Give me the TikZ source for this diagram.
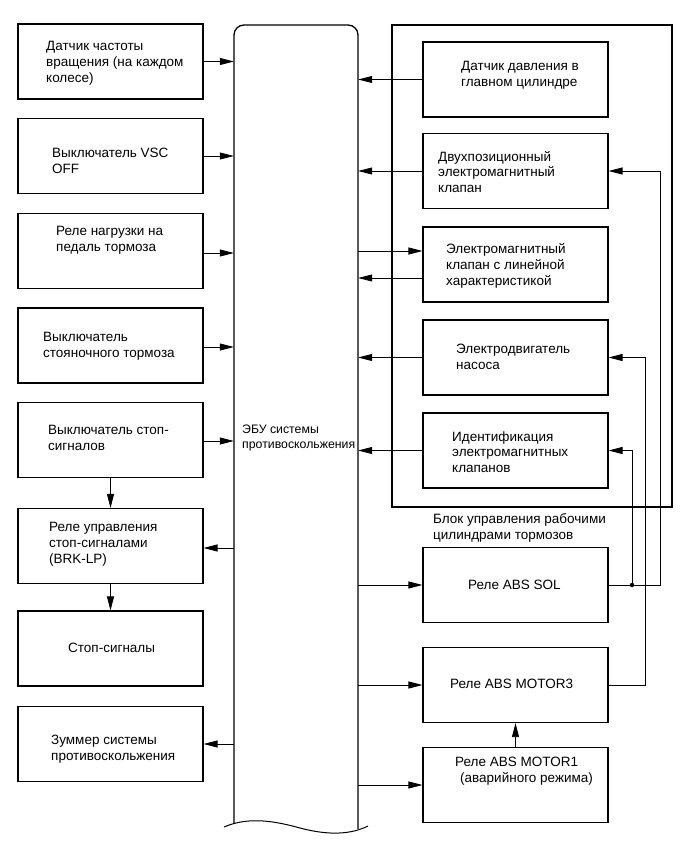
\documentclass[tikz,border=0pt]{standalone}
\usepackage{fontspec}
\setmainfont{Liberation Sans}
\usetikzlibrary{arrows.meta}
\begin{document}
\begin{tikzpicture}[x=1pt,y=-1pt,
  box/.style={draw,line width=1.1pt,minimum width=185pt,minimum height=75pt,inner sep=0pt},
  lbl/.style={anchor=west,align=left,inner sep=0pt,font=\fontsize{13.5}{15.8}\selectfont},
  arr/.style={line width=0.8pt,-{Triangle[length=14pt,width=7pt]}},
  wire/.style={line width=0.8pt}]
\useasboundingbox (0,0) rectangle (690,856);
% ECU
\node[minimum width=124pt,minimum height=801pt,inner sep=0pt] (ecu) at (296,425.5) {};
\draw[line width=1.3pt,rounded corners=10pt] (234,823) -- (234,25) -- (358,25) -- (358,829);
\draw[line width=1pt] (224,827) .. controls (245,818) and (268,819) .. (300,828) .. controls (330,836) and (352,834) .. (368,826);
\node[lbl,font=\fontsize{12.3}{15.5}\selectfont] (ecut) at (242,438) {ЭБУ системы\\противоскольжения};
% left boxes
\node[box] (L1) at (110.5,61.5) {};
\node[box] (L2) at (110.5,156) {};
\node[box] (L3) at (110.5,251) {};
\node[box] (L4) at (110.5,345.5) {};
\node[box] (L5) at (110.5,440) {};
\node[box] (L6) at (110.5,546) {};
\node[box] (L7) at (110.5,648.5) {};
\node[box] (L8) at (110.5,744) {};
\node[lbl] (t1) at (46,63) {Датчик частоты\\вращения (на каждом\\колесе)};
\node[lbl] (t2) at (52,161) {Выключатель VSC\\OFF};
\node[lbl] (t3) at (56,240) {Реле нагрузки на\\педаль тормоза};
\node[lbl] (t4) at (43,346) {Выключатель\\стояночного тормоза};
\node[lbl] (t5) at (48,438) {Выключатель стоп-\\сигналов};
\node[lbl] (t6) at (49,544) {Реле управления\\стоп-сигналами\\(BRK-LP)};
\node[lbl] (t7) at (68,648) {Стоп-сигналы};
\node[lbl] (t8) at (51,749) {Зуммер системы\\противоскольжения};
\draw[arr] (L1.east) -- (L1.east -| ecu.west);
\draw[arr] (L2.east) -- (L2.east -| ecu.west);
\draw[arr] ([yshift=-2pt]L3.east) -- ([yshift=-2pt]L3.east -| ecu.west);
\draw[arr] ([yshift=-1.5pt]L4.east) -- ([yshift=-1.5pt]L4.east -| ecu.west);
\draw[arr] ([yshift=-1pt]L5.east) -- ([yshift=-1pt]L5.east -| ecu.west);
\draw[arr] ([yshift=-2pt]L6.east -| ecu.west) -- ([yshift=-2pt]L6.east);
\draw[arr] (L8.east -| ecu.west) -- (L8.east);
\draw[arr] (L5.south) -- (L6.north);
\draw[arr] (L6.south) -- (L7.north);
% frame
\node[draw,line width=1.1pt,minimum width=280pt,minimum height=482pt,inner sep=0pt] (frame) at (532,266) {};
\node[lbl] (ft) at (433,528) {Блок управления рабочими\\цилиндрами тормозов};
% right boxes
\node[box] (R1) at (515.5,79.5) {};
\node[box] (R2) at (515.5,171) {};
\node[box] (R3) at (515.5,264.5) {};
\node[box] (R4) at (515.5,357.5) {};
\node[box] (R5) at (515.5,450.5) {};
\node[box] (B1) at (515.5,585) {};
\node[box] (B2) at (515.5,685) {};
\node[box] (B3) at (515.5,785) {};
\node[lbl] (r1) at (461,75) {Датчик давления в\\главном цилиндре};
\node[lbl] (r2) at (438,172) {Двухпозиционный\\электромагнитный\\клапан};
\node[lbl] (r3) at (446,266) {Электромагнитный\\клапан с линейной\\характеристикой};
\node[lbl] (r4) at (456,357) {Электродвигатель\\насоса};
\node[lbl] (r5) at (452,452) {Идентификация\\электромагнитных\\клапанов};
\node[lbl] (b1) at (468,585) {Реле ABS SOL};
\node[lbl] (b2) at (450,684) {Реле ABS MOTOR3};
\node[lbl] (b3) at (455,771) {Реле ABS MOTOR1\\\hspace*{5pt}(аварийного режима)};
\draw[arr] (R1.west) -- (R1.west -| ecu.east);
\draw[arr] (R2.west) -- (R2.west -| ecu.east);
\draw[arr] ([yshift=-13.5pt]R3.west) -- ([yshift=-13.5pt]R3.west -| ecu.east);
\draw[arr] ([yshift=13.5pt]R3.west -| ecu.east) -- ([yshift=13.5pt]R3.west);
\draw[arr] (R4.west) -- (R4.west -| ecu.east);
\draw[arr] (R5.west) -- (R5.west -| ecu.east);
\draw[arr] (B1.west -| ecu.east) -- (B1.west);
\draw[arr] (B2.west -| ecu.east) -- (B2.west);
\draw[arr] (B3.west -| ecu.east) -- (B3.west);
\draw[arr] (B3.north) -- (B2.south);
% wiring
\coordinate (w1) at (660,0);
\coordinate (w2) at (645,0);
\coordinate (j) at (632,585);
\draw[arr] (B1.east) -| (w1 |- R2.east) -- (R2.east);
\draw[arr] (j) |- (R5.east);
\fill (j) circle (2.2pt);
\draw[arr] (B2.east) -| (w2 |- R4.east) -- (R4.east);
\end{tikzpicture}
\end{document}
